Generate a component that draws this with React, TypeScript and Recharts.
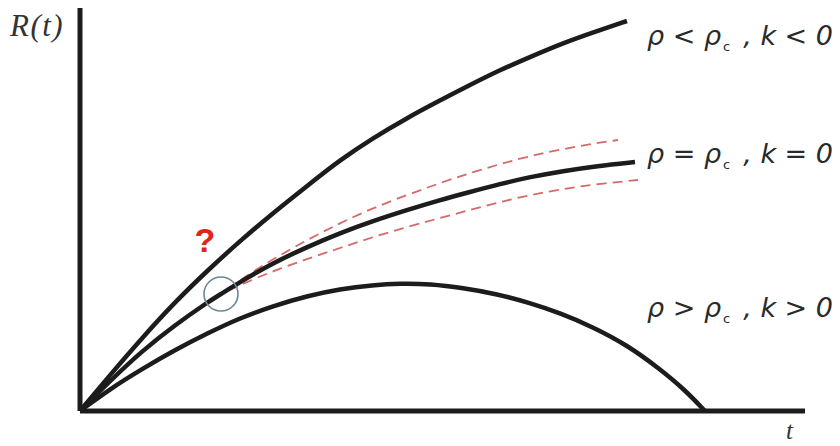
import { LineChart, Line, XAxis, YAxis, ReferenceDot, ReferenceLine, Customized } from "recharts";

// values, in the figure's own units (t: 0..725, R: 0..403)
const openUniverse = [
  { t: 0, R: 0 }, { t: 30, R: 36 }, { t: 62, R: 73 }, { t: 95, R: 109 }, { t: 128, R: 141 },
  { t: 160, R: 170 }, { t: 193, R: 198 }, { t: 227, R: 225 }, { t: 260, R: 251 },
  { t: 293, R: 273 }, { t: 327, R: 293 }, { t: 357, R: 309 }, { t: 390, R: 326 },
  { t: 420, R: 341 }, { t: 450, R: 354 }, { t: 483, R: 368 }, { t: 517, R: 380 }, { t: 547, R: 390 },
];
const flatUniverse = [
  { t: 0, R: 0 }, { t: 30, R: 30 }, { t: 62, R: 60 }, { t: 95, R: 86 }, { t: 128, R: 109 },
  { t: 141, R: 117 }, { t: 160, R: 129 }, { t: 193, R: 148 }, { t: 227, R: 164 },
  { t: 260, R: 178 }, { t: 293, R: 190 }, { t: 327, R: 201 }, { t: 360, R: 211 },
  { t: 390, R: 219 }, { t: 420, R: 227 }, { t: 450, R: 234 }, { t: 483, R: 240 },
  { t: 517, R: 245 }, { t: 555, R: 249 },
];
const upperBand = [
  { t: 0, R: 0 }, { t: 30, R: 30 }, { t: 62, R: 60 }, { t: 95, R: 86 }, { t: 128, R: 109 },
  { t: 141, R: 117 }, { t: 160, R: 131 }, { t: 193, R: 152 }, { t: 227, R: 171 },
  { t: 260, R: 188 }, { t: 293, R: 203 }, { t: 327, R: 216 }, { t: 360, R: 228 },
  { t: 390, R: 238 }, { t: 420, R: 247 }, { t: 450, R: 255 }, { t: 483, R: 262 },
  { t: 517, R: 268 }, { t: 538, R: 271 },
];
const lowerBand = [
  { t: 0, R: 0 }, { t: 30, R: 30 }, { t: 62, R: 60 }, { t: 95, R: 86 }, { t: 128, R: 109 },
  { t: 141, R: 117 }, { t: 160, R: 126 }, { t: 193, R: 140 }, { t: 227, R: 152 },
  { t: 260, R: 163 }, { t: 293, R: 174 }, { t: 327, R: 184 }, { t: 360, R: 193 },
  { t: 390, R: 201 }, { t: 420, R: 209 }, { t: 450, R: 216 }, { t: 483, R: 222 },
  { t: 517, R: 227 }, { t: 558, R: 231 },
];
const closedUniverse = [
  { t: 0, R: 0 }, { t: 30, R: 22 }, { t: 62, R: 42 }, { t: 95, R: 61 }, { t: 128, R: 78 },
  { t: 160, R: 93 }, { t: 193, R: 105 }, { t: 227, R: 115 }, { t: 260, R: 122 },
  { t: 293, R: 126 }, { t: 320, R: 127.5 }, { t: 350, R: 127 }, { t: 383, R: 123 },
  { t: 417, R: 117 }, { t: 450, R: 108 }, { t: 480, R: 98 }, { t: 513, R: 84 },
  { t: 547, R: 66 }, { t: 580, R: 42 }, { t: 605, R: 21 }, { t: 625, R: 0 },
];
const crossing = { t: 141, R: 117 };

const labels = [
  { left: "ρ < ρ", right: ", k < 0", y: 45 },
  { left: "ρ = ρ", right: ", k = 0", y: 163 },
  { left: "ρ > ρ", right: ", k > 0", y: 317 },
];

const ink = "#1c1c1c";
const mathFont = "'DejaVu Sans', sans-serif";

function Annotations() {
  return (
    <g>
      <text x={10} y={36} fontFamily="'Liberation Serif', serif" fontStyle="italic" fontSize={31} letterSpacing={1.5} fill="#333">
        R(t)
      </text>
      <text x={786} y={439} fontFamily="'Liberation Serif', serif" fontStyle="italic" fontSize={25} fill="#333">
        t
      </text>
      <text x={205} y={252} textAnchor="middle" fontFamily="'Liberation Sans', Arial, sans-serif" fontWeight="bold" fontSize={34} fill="#e02418">
        ?
      </text>
      {labels.map((l) => (
        <g key={l.y} fontFamily={mathFont} fontSize={27} fill="#2a2a2a">
          <text x={647} y={l.y} fontStyle="italic">{l.left}</text>
          <text x={723} y={l.y + 6} fontSize={13}>c</text>
          <text x={833} y={l.y} textAnchor="end" fontStyle="italic">{l.right}</text>
        </g>
      ))}
    </g>
  );
}

export default function App() {
  return (
    <div style={{ position: "absolute", left: 0, top: 0, width: 840, height: 446, background: "#fff" }}>
      <LineChart width={840} height={446} margin={{ top: 8, right: 35, left: 80, bottom: 35 }}>
        <XAxis type="number" dataKey="t" domain={[0, 725]} hide />
        <YAxis type="number" dataKey="R" domain={[0, 403]} hide />
        <ReferenceLine x={0} stroke={ink} strokeWidth={5} ifOverflow="visible" />
        <ReferenceLine y={0} stroke={ink} strokeWidth={5} ifOverflow="visible" />
        <Line data={upperBand} dataKey="R" type="basis" stroke="#d46a6a" strokeWidth={1.8} strokeDasharray="10 6" dot={false} isAnimationActive={false} />
        <Line data={lowerBand} dataKey="R" type="basis" stroke="#d46a6a" strokeWidth={1.8} strokeDasharray="10 6" dot={false} isAnimationActive={false} />
        <Line data={openUniverse} dataKey="R" type="basis" stroke={ink} strokeWidth={4.5} dot={false} isAnimationActive={false} />
        <Line data={flatUniverse} dataKey="R" type="basis" stroke={ink} strokeWidth={4.5} dot={false} isAnimationActive={false} />
        <Line data={closedUniverse} dataKey="R" type="basis" stroke={ink} strokeWidth={4.5} dot={false} isAnimationActive={false} />
        <ReferenceDot x={crossing.t} y={crossing.R} r={17} fill="none" stroke="#6a8898" strokeWidth={1.6} />
        <Customized component={<Annotations />} />
      </LineChart>
    </div>
  );
}
